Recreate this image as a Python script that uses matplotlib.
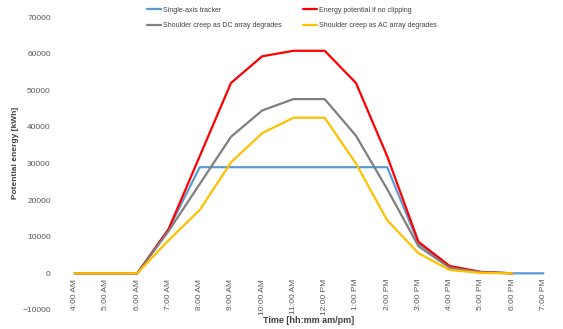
import matplotlib.pyplot as plt

plt.rcParams['font.family'] = ['Liberation Sans', 'DejaVu Sans']

# hourly time slots on the category axis
heures = ['4:00 AM', '5:00 AM', '6:00 AM', '7:00 AM', '8:00 AM', '9:00 AM',
          '10:00 AM', '11:00 AM', '12:00 PM', '1:00 PM', '2:00 PM', '3:00 PM',
          '4:00 PM', '5:00 PM', '6:00 PM', '7:00 PM']

# potential energy per hour [kWh]
tracker = [0, 0, 0, 12000, 29000, 29000, 29000, 29000, 29000, 29000, 29000,
           8200, 1700, 300, 0, 0]
sans_clipping = [0, 0, 0, 12000, 32000, 52000, 59300, 60800, 60800, 52000,
                 32000, 8600, 2000, 400, 0]
creep_dc = [0, 0, 0, 11500, 24400, 37300, 44500, 47600, 47600, 37600, 23000,
            7400, 1500, 300, 0]
creep_ac = [0, 0, 0, 9000, 17300, 30300, 38300, 42500, 42500, 30000, 14500,
            5500, 900, 100, 0]

series = [
    ('Single-axis tracker', tracker, '#5B9BD5'),
    ('Energy potential if no clipping', sans_clipping, '#FF0000'),
    ('Shoulder creep as DC array degrades', creep_dc, '#7F7F7F'),
    ('Shoulder creep as AC array degrades', creep_ac, '#FFC000'),
]

fig = plt.figure(figsize=(5.63, 3.29), dpi=100)
ax = fig.add_axes([0.105, 0.058, 0.888, 0.890])

lignes = {}
for nom, vals, couleur in series:
    l, = ax.plot(range(len(vals)), vals, color=couleur, lw=1.6,
                 solid_joinstyle='round', solid_capstyle='round', label=nom)
    lignes[nom] = l

ax.set_xlim(-0.5, len(heures) - 0.5)
ax.set_ylim(-10000, 70000)
ax.set_yticks(range(-10000, 70001, 10000))
ax.tick_params(axis='y', length=0, labelsize=6, labelcolor='#595959', pad=6)
ax.set_xticks([])
for s in ax.spines.values():
    s.set_visible(False)

# category labels sit just under the zero line
for i, h in enumerate(heures):
    ax.annotate(h, (i, 0), xytext=(0, -4), textcoords='offset points',
                rotation=90, ha='center', va='top', fontsize=6,
                color='#595959')

fig.text(0.028, 0.535, 'Potential energy [kWh]', rotation=90, ha='center',
         va='center', fontsize=6, fontweight='bold', color='#404040')
fig.text(0.548, 0.025, 'Time [hh:mm am/pm]', ha='center', va='center',
         fontsize=6.5, fontweight='bold', color='#404040')

ordre = ['Single-axis tracker', 'Shoulder creep as DC array degrades',
         'Energy potential if no clipping', 'Shoulder creep as AC array degrades']
fig.legend([lignes[n] for n in ordre], ordre, loc='upper left',
           bbox_to_anchor=(0.25, 0.998), ncol=2, frameon=False, fontsize=5,
           handlelength=2.0, handletextpad=0.3, columnspacing=3.1,
           labelspacing=1.2, labelcolor='#404040')

fig.savefig('out.png', dpi=100)
